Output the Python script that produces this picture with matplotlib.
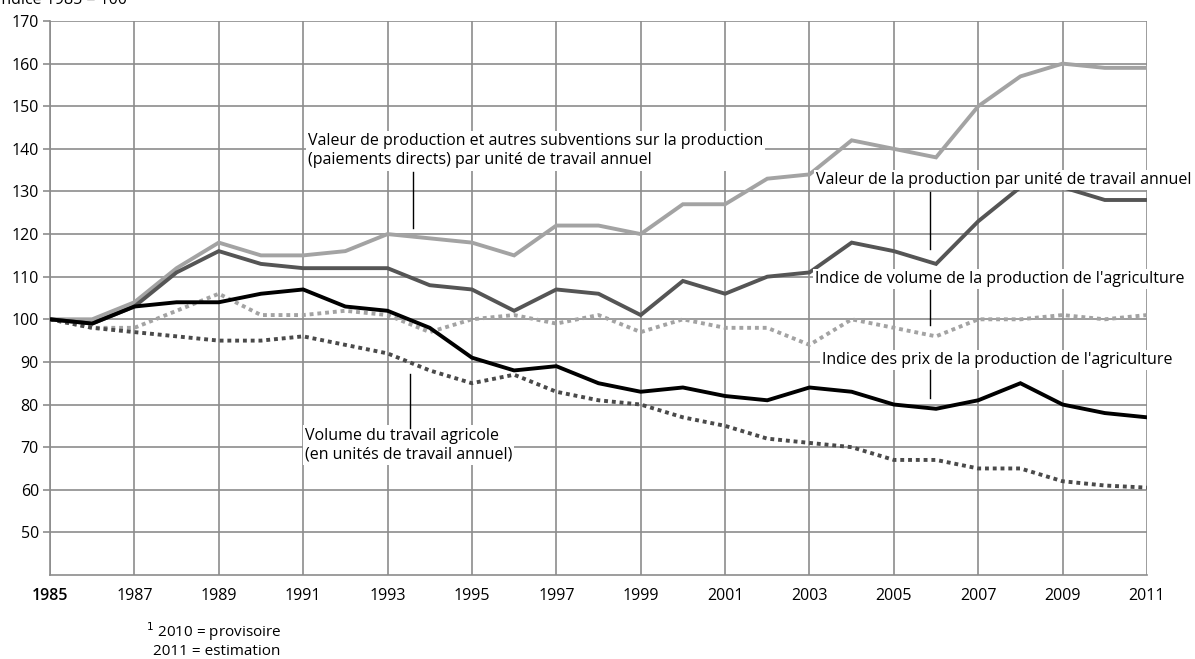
import matplotlib
matplotlib.use("Agg")
import matplotlib.pyplot as plt

plt.rcParams['font.family'] = ['Open Sans', 'DejaVu Sans']

years = list(range(1985, 2012))

valeur_subv = [100, 100, 104, 112, 118, 115, 115, 116, 120, 119, 118, 115, 122, 122, 120,
               127, 127, 133, 134, 142, 140, 138, 150, 157, 160, 159, 159]
valeur_prod = [100, 99, 103, 111, 116, 113, 112, 112, 112, 108, 107, 102, 107, 106, 101,
               109, 106, 110, 111, 118, 116, 113, 123, 131, 131, 128, 128]
indice_volume = [100, 98, 98, 102, 106, 101, 101, 102, 101, 97, 100, 101, 99, 101, 97,
                 100, 98, 98, 94, 100, 98, 96, 100, 100, 101, 100, 101]
indice_prix = [100, 99, 103, 104, 104, 106, 107, 103, 102, 98, 91, 88, 89, 85, 83,
               84, 82, 81, 84, 83, 80, 79, 81, 85, 80, 78, 77]
volume_travail = [100, 98, 97, 96, 95, 95, 96, 94, 92, 88, 85, 87, 83, 81, 80,
                  77, 75, 72, 71, 70, 67, 67, 65, 65, 62, 61, 60.5]

x_ticks = list(range(1985, 2012, 2))
y_ticks = list(range(50, 171, 10))

labels = {
    'subv': "Valeur de production et autres subventions sur la production\n(paiements directs) par unité de travail annuel",
    'prod': "Valeur de la production par unité de travail annuel",
    'vol': "Indice de volume de la production de l'agriculture",
    'prix': "Indice des prix de la production de l'agriculture",
    'trav': "Volume du travail agricole\n(en unités de travail annuel)",
}

W, H = 1195, 659
fig = plt.figure(figsize=(W / 100, H / 100), dpi=100)
ax = fig.add_axes([50 / W, (H - 575) / H, 1097 / W, (575 - 21) / H])

LW = 2.8
ax.plot(years, valeur_subv, color='#a3a3a3', lw=LW, solid_joinstyle='miter', zorder=3)
ax.plot(years, valeur_prod, color='#555555', lw=LW, solid_joinstyle='miter', zorder=3)
ax.plot(years, indice_volume, color='#a3a3a3', lw=LW, linestyle=(0, (1, 1)),
        dash_capstyle='butt', zorder=3)
ax.plot(years, volume_travail, color='#4a4a4a', lw=LW, linestyle=(0, (1, 1)),
        dash_capstyle='butt', zorder=3)
ax.plot(years, indice_prix, color='#000000', lw=LW, solid_joinstyle='miter', zorder=4)

ax.set_xlim(1985, 2011)
ax.set_ylim(40, 170)
ax.set_xticks(x_ticks)
ax.set_xticklabels([str(y) for y in x_ticks])
ax.set_yticks(y_ticks)
ax.set_yticklabels([str(v) for v in y_ticks])
ax.grid(True, which='major', color='#8c8c8c', lw=1.2, zorder=0)
for side in ['top', 'right']:
    ax.spines[side].set_visible(False)
for side in ['left', 'bottom']:
    ax.spines[side].set_color('#8c8c8c')
    ax.spines[side].set_linewidth(1.2)
ax.tick_params(axis='y', length=5, width=1.2, color='#8c8c8c', labelsize=11.5, pad=3)
ax.tick_params(axis='x', length=0, labelsize=11.5, pad=9)
ax.get_xticklabels()[0].set_fontweight('semibold')

box = dict(facecolor='white', edgecolor='none', pad=1.5)
fs = 11.5
ax.text(1991.11, 139.5, labels['subv'], ha='left', va='center', fontsize=fs,
        bbox=box, zorder=6, linespacing=1.25)
ax.text(2012.05, 132.7, labels['prod'], ha='right', va='center', fontsize=fs,
        bbox=box, zorder=6, clip_on=False)
ax.text(2011.9, 109.5, labels['vol'], ha='right', va='center', fontsize=fs,
        bbox=box, zorder=6, clip_on=False)
ax.text(2003.3, 90.5, labels['prix'], ha='left', va='center', fontsize=fs,
        bbox=box, zorder=6)
ax.text(1991.04, 70.5, labels['trav'], ha='left', va='center', fontsize=fs,
        bbox=box, zorder=6, linespacing=1.25)

# leader lines
ax.plot([1993.6, 1993.6], [134.6, 121.4], color='black', lw=1.0, zorder=7)
ax.plot([2005.86, 2005.86], [129.9, 116.5], color='black', lw=1.0, zorder=7)
ax.plot([2005.86, 2005.86], [106.9, 98.7], color='black', lw=1.0, zorder=7)
ax.plot([2005.86, 2005.86], [88.1, 81.5], color='black', lw=1.0, zorder=7)
ax.plot([1993.53, 1993.53], [87.2, 74.5], color='black', lw=1.0, zorder=7)

fig.text(-3 / W, 1 - 4 / H, "Indice 1985 = 100", ha='left', va='baseline', fontsize=11.5)
fig.text(146 / W, 1 - 637 / H, "$^1$ 2010 = provisoire", ha='left', va='baseline', fontsize=11)
fig.text(153 / W, 1 - 655 / H, "2011 = estimation", ha='left', va='baseline', fontsize=11)

fig.savefig('out.png', dpi=100)
